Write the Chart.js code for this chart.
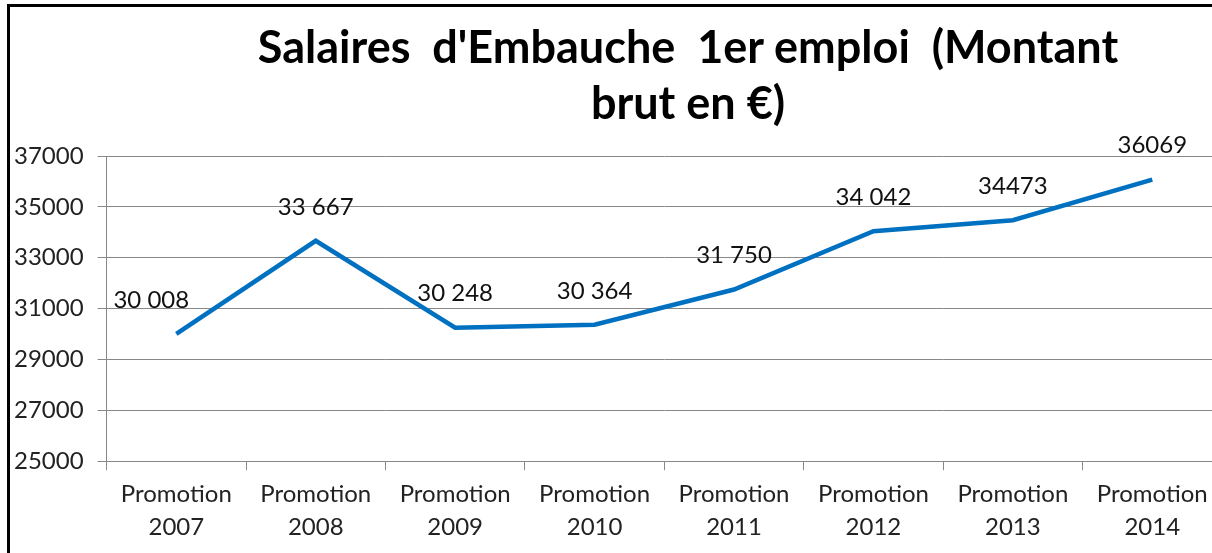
<!DOCTYPE html>
<html>
<head>
<meta charset="utf-8">
<script src="https://cdn.jsdelivr.net/npm/chart.js@4.4.0/dist/chart.umd.min.js"></script>
<style>
    html, body { margin: 0; padding: 0; background: #fff; overflow: hidden; }
    #frame {
        position: absolute; left: 7px; top: 4px; width: 1240px; height: 560px;
        border-left: 3px solid #000; border-top: 3px solid #000;
    }
    #title {
        position: absolute; left: 0; top: 18px; width: 1212px; text-align: center;
        font-family: Lato, sans-serif; font-weight: bold; font-size: 45px; line-height: 56px;
        color: #000; padding-left: 164px; box-sizing: border-box;
    }
    #wrap { position: absolute; left: 0; top: 0; }
</style>
</head>
<body>
<div id="frame"></div>
<div id="wrap"><canvas id="salaryChart" width="1222" height="553"></canvas></div>
<div id="title">Salaires&nbsp; d'Embauche&nbsp; 1er emploi&nbsp; (Montant<br>brut en €)</div>
<script>
const categories = [['Promotion', '2007'], ['Promotion', '2008'], ['Promotion', '2009'], ['Promotion', '2010'],
    ['Promotion', '2011'], ['Promotion', '2012'], ['Promotion', '2013'], ['Promotion', '2014']];
const salaries = [30008, 33667, 30248, 30364, 31750, 34042, 34473, 36069];
const valueLabels = ['30 008', '33 667', '30 248', '30 364', '31 750', '34 042', '34473', '36069'];

// draw the value above each point, like the Excel data labels
const valueLabelPlugin = {
    id: 'valueLabels',
    afterDatasetsDraw(chart) {
        const c = chart.ctx;
        const meta = chart.getDatasetMeta(0);
        c.save();
        c.font = '24px Lato, sans-serif';
        c.fillStyle = '#111';
        c.textAlign = 'center';
        c.textBaseline = 'middle';
        meta.data.forEach((pt, i) => {
            const shift = i === 0 ? -25 : 0;
            c.fillText(valueLabels[i], pt.x + shift, pt.y - 34);
        });
        c.restore();
    }
};

const ctx = document.getElementById('salaryChart').getContext('2d');
new Chart(ctx, {
    type: 'line',
    data: {
        labels: categories,
        datasets: [{
            data: salaries,
            borderColor: '#0070C0',
            borderWidth: 4.5,
            pointRadius: 0,
            tension: 0,
            fill: false
        }]
    },
    options: {
        responsive: false,
        animation: false,
        layout: { padding: { top: 156, left: 0, right: 0, bottom: 2 } },
        plugins: {
            legend: { display: false },
            tooltip: { enabled: false }
        },
        scales: {
            x: {
                offset: true,
                grid: { offset: true, drawOnChartArea: false, tickLength: 9, color: '#888' },
                border: { color: '#888' },
                ticks: { color: '#222', font: { family: 'Lato', size: 24, lineHeight: 1.35 }, padding: 8, maxRotation: 0 }
            },
            y: {
                min: 25000,
                max: 37000,
                ticks: {
                    stepSize: 2000, color: '#222', font: { family: 'Lato', size: 24 }, padding: 14,
                    callback: (v) => String(v)
                },
                grid: { color: '#888', tickLength: 9 },
                border: { color: '#888' }
            }
        }
    },
    plugins: [valueLabelPlugin]
});
</script>
</body>
</html>
